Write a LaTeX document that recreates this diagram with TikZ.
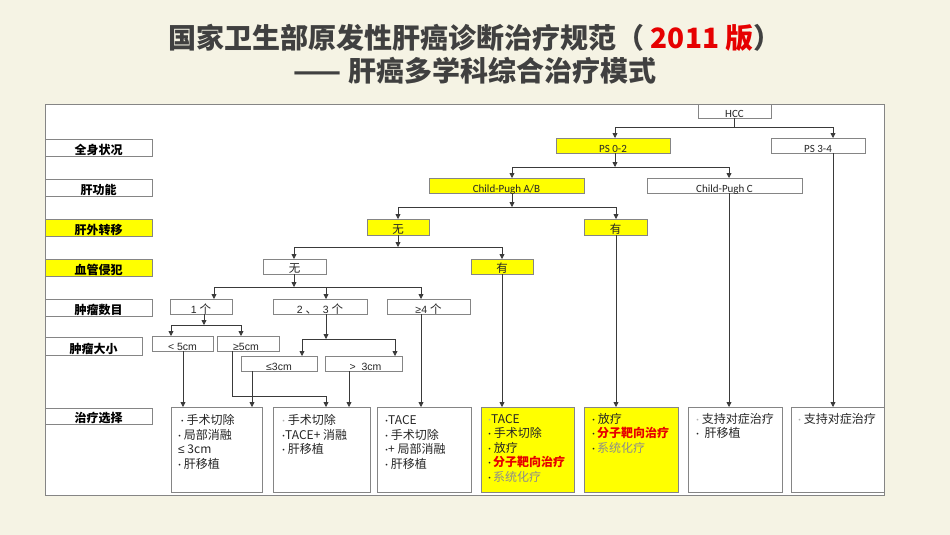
\documentclass[tikz,border=0pt]{standalone}
\usepackage{fontspec}
\setmainfont{Noto Sans CJK SC}
\newfontfamily\lat{Carlito}
\newfontfamily\ars{Liberation Sans}
\usetikzlibrary{arrows.meta}
\definecolor{bg}{HTML}{F5F3E4}
\definecolor{ttl}{HTML}{404040}
\definecolor{ylw}{HTML}{FFFF00}
\definecolor{bord}{HTML}{858585}
\definecolor{lin}{HTML}{3A3A3A}
\definecolor{txt}{HTML}{262626}
\definecolor{ired}{HTML}{E60000}
\definecolor{igray}{HTML}{8C8C8C}
\definecolor{fdot}{HTML}{B0B0B0}
\newcommand\bx[6]{\node[#6, minimum width={#4-#2}, minimum height={#5-#3}] (#1) at ({(#2+#4)/2},{(#3+#5)/2}) {};}
\newcommand\dt{{\lat ·}}
\newcommand\fdt{{\lat\color{fdot}·}}
\begin{document}
\begin{tikzpicture}[x=1pt,y=-1pt,
  box/.style={draw=bord, line width=0.8pt, fill=white, inner sep=0pt, outer sep=0pt},
  ybox/.style={box, fill=ylw},
  conn/.style={draw=lin, line width=0.8pt},
  arr/.style={conn, -{Triangle[width=5pt,length=5pt]}},
  lt/.style={font=\lat\fontsize{11}{12}\selectfont, text=txt, inner sep=0pt, anchor=base},
  ct/.style={font=\fontsize{11.5}{12}\selectfont, text=txt, inner sep=0pt, anchor=base},
  lab/.style={font=\fontsize{12}{13}\selectfont\bfseries, text=black, inner sep=0pt, anchor=base},
  tt/.style={anchor=base west, inner sep=0pt, text=txt, font=\fontsize{12}{14.5}\selectfont},
  ttlstyle/.style={font=\fontsize{28}{30}\selectfont\bfseries, text=ttl, inner sep=0pt}]
\fill[bg] (0,0) rectangle (950,535);
\useasboundingbox (0,0) rectangle (950,535);
% titles
\node[ttlstyle] (title1) at (475,38) {国家卫生部原发性肝癌诊断治疗规范（ {\color{ired}2011 版}）};
\node[ttlstyle] (title2) at (475,71) {—— 肝癌多学科综合治疗模式};
% frame
\bx{frame}{45}{104}{884}{495}{box}
% left labels
\bx{l1}{45}{139}{152}{156}{box}
\bx{l2}{45}{179}{152}{196}{box}
\bx{l3}{45}{219}{152}{236}{ybox}
\bx{l4}{45}{259}{152}{276}{ybox}
\bx{l5}{45}{299}{152}{316}{box}
\bx{l6}{45}{337}{142}{355}{box}
\bx{l7}{45}{408}{152}{424}{box}
\node[lab] (l1t) at ([yshift=2pt]l1.south) {全身状况};
\node[lab] (l2t) at ([yshift=2pt]l2.south) {肝功能};
\node[lab] (l3t) at ([yshift=2pt]l3.south) {肝外转移};
\node[lab] (l4t) at ([yshift=2pt]l4.south) {血管侵犯};
\node[lab] (l5t) at ([yshift=2pt]l5.south) {肿瘤数目};
\node[lab] (l6t) at ([yshift=2pt]l6.south) {肿瘤大小};
\node[lab] (l7t) at ([yshift=2pt]l7.south) {治疗选择};
% flow boxes
\bx{hcc}{698}{104}{771}{118}{box}
\bx{ps02}{556}{138}{670}{153}{ybox}
\bx{ps34}{771}{138}{865}{153}{box}
\bx{cpab}{429}{178}{584}{193}{ybox}
\bx{cpc}{647}{178}{802}{193}{box}
\bx{ehno}{367}{219}{429}{235}{ybox}
\bx{ehyes}{584}{219}{647}{235}{ybox}
\bx{vino}{263}{259}{326}{274}{box}
\bx{viyes}{471}{259}{533}{274}{ybox}
\bx{n1}{170}{299}{232}{314}{box}
\bx{n23}{273}{299}{367}{314}{box}
\bx{n4}{387}{299}{470}{314}{box}
\bx{s5l}{152}{336}{213}{351}{box}
\bx{s5g}{217}{336}{279}{351}{box}
\bx{s3l}{241}{356}{317}{371}{box}
\bx{s3g}{325}{356}{402}{371}{box}
\node[lt] (hcct) at ([yshift=0.5pt]hcc.south) {HCC};
\node[lt] (ps02t) at ([yshift=0.5pt]ps02.south) {PS 0-2};
\node[lt] (ps34t) at ([yshift=0.5pt]ps34.south) {PS 3-4};
\node[lt] (cpabt) at ([yshift=0.5pt]cpab.south) {Child-Pugh A/B};
\node[lt] (cpct) at ([yshift=0.5pt]cpc.south) {Child-Pugh C};
\node[ct] (ehnot) at ([yshift=1.5pt]ehno.south) {无};
\node[ct] (ehyest) at ([yshift=1.5pt]ehyes.south) {有};
\node[ct] (vinot) at ([yshift=1.5pt]vino.south) {无};
\node[ct] (viyest) at ([yshift=1.5pt]viyes.south) {有};
\node[ct] (n1t) at ([yshift=1pt]n1.south) {{\ars\fontsize{10.5}{12}\selectfont 1 }个};
\node[ct] (n23t) at ([yshift=1pt]n23.south) {{\ars\fontsize{10.5}{12}\selectfont 2 }、{\ars\fontsize{10.5}{12}\selectfont\ \ 3 }个};
\node[ct] (n4t) at ([yshift=1pt]n4.south) {{\ars\fontsize{10.5}{12}\selectfont ≥4 }个};
\node[ct, font=\ars\fontsize{10.5}{12}\selectfont] (s5lt) at ([yshift=0.5pt]s5l.south) {< 5cm};
\node[ct, font=\ars\fontsize{10.5}{12}\selectfont] (s5gt) at ([yshift=0.5pt,xshift=-2pt]s5g.south) {≥5cm};
\node[ct, font=\ars\fontsize{10.5}{12}\selectfont] (s3lt) at ([yshift=0.5pt]s3l.south) {≤3cm};
\node[ct, font=\ars\fontsize{10.5}{12}\selectfont] (s3gt) at ([yshift=0.5pt,xshift=2pt]s3g.south) {>\ \ 3cm};
% treatment boxes
\bx{t1}{171}{407}{262}{492}{box}
\bx{t2}{273}{407}{370}{492}{box}
\bx{t3}{377}{407}{471}{492}{box}
\bx{t4}{481}{407}{574}{492}{ybox}
\bx{t5}{584}{407}{678}{492}{ybox}
\bx{t6}{688}{407}{782}{492}{box}
\bx{t7}{791}{407}{884}{492}{box}
\node[tt] (t1t) at (178,424.5) {\parbox[t]{85pt}{\leavevmode\ \dt\ 手术切除\\\dt\ 局部消融\\{\ars ≤} 3cm\\\dt\ 肝移植}};
\node[tt] (t2t) at (282,424.5) {\parbox[t]{85pt}{\leavevmode\fdt\ 手术切除\\\dt TACE+ 消融\\\dt\ 肝移植}};
\node[tt] (t3t) at (385,424.5) {\parbox[t]{85pt}{\leavevmode\dt TACE\\\dt\ 手术切除\\\dt + 局部消融\\\dt\ 肝移植}};
\node[tt] (t4t) at (488,423) {\parbox[t]{85pt}{\leavevmode\fdt TACE\\\dt\ 手术切除\\\dt\ 放疗\\\dt\,{\color{ired}\bfseries 分子靶向治疗}\\\dt\,{\color{igray}系统化疗}}};
\node[tt] (t5t) at (592,423) {\parbox[t]{85pt}{\leavevmode\dt\ 放疗\\\dt\,{\color{ired}\bfseries 分子靶向治疗}\\\dt\,{\color{igray}系统化疗}}};
\node[tt] (t6t) at (696,423) {\parbox[t]{85pt}{\leavevmode\fdt\ 支持对症治疗\\\dt\ \ 肝移植}};
\node[tt] (t7t) at (798,423) {\parbox[t]{85pt}{\leavevmode\fdt\ 支持对症治疗}};
% junctions
\coordinate (j0) at (734.5,127);
\coordinate (j1) at (615,167);
\coordinate (j2) at (512,207);
\coordinate (j3) at (398,247);
\coordinate (j4) at (294,287);
\coordinate (j5) at (204,325);
\coordinate (j6) at (326,339);
\coordinate (b1) at (326,396);
% connectors
\draw[conn] (hcc.south) -- (j0);
\draw[arr] (j0) -| (ps02.north -| j1);
\draw[arr] (j0) -| (ps34.north -| 833,0);
\draw[arr] (ps02.south -| j1) -- (j1);
\draw[arr] (j1) -| (cpab.north -| j2);
\draw[arr] (j1) -| (cpc.north -| 729,0);
\draw[arr] (cpab.south -| j2) -- (j2);
\draw[arr] (j2) -| (ehno.north -| j3);
\draw[arr] (j2) -| (ehyes.north -| 616,0);
\draw[arr] (ehno.south -| j3) -- (j3);
\draw[arr] (j3) -| (vino.north -| j4);
\draw[arr] (j3) -| (viyes.north -| 502,0);
\draw[arr] (vino.south -| j4) -- (j4);
\draw[arr] (j4) -| (n1.north -| 214,0);
\draw[arr] (j4) -| (n23.north -| j6);
\draw[arr] (j4) -| (n4.north -| 421,0);
\draw[arr] (n1.south -| j5) -- (j5);
\draw[arr] (j5) -| (s5l.north -| 171,0);
\draw[arr] (j5) -| (s5g.north -| 241,0);
\draw[arr] (n23.south -| j6) -- (j6);
\draw[arr] (j6) -| (s3l.north -| 302,0);
\draw[arr] (j6) -| (s3g.north -| 395,0);
\draw[arr] (s5l.south -| 183,0) -- (t1.north -| 183,0);
\draw[arr] (s3l.south -| 252,0) -- (t1.north -| 252,0);
\draw[arr] (s5g.south -| 232,0) |- (b1) -- (t2.north -| b1);
\draw[arr] (s3g.south -| 349,0) -- (t2.north -| 349,0);
\draw[arr] (n4.south -| 421,0) -- (t3.north -| 421,0);
\draw[arr] (viyes.south -| 502,0) -- (t4.north -| 502,0);
\draw[arr] (ehyes.south -| 616,0) -- (t5.north -| 616,0);
\draw[arr] (cpc.south -| 729,0) -- (t6.north -| 729,0);
\draw[arr] (ps34.south -| 833,0) -- (t7.north -| 833,0);
\end{tikzpicture}
\end{document}
